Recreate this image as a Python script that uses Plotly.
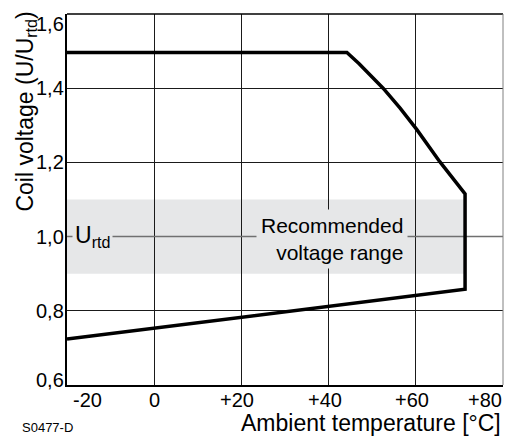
import plotly.graph_objects as go

# ---- data ----
temp_curve = [-20, 44.2, 47, 49.5, 52.5, 56.4, 60.2, 65.5, 71.3, 71.3, -20]
volt_curve = [1.496, 1.496, 1.466, 1.436, 1.4, 1.346, 1.289, 1.202, 1.115, 0.858, 0.724]

band_temp = [-20, 71.3]
band_volt = [0.9, 1.1]
rated_volt = 1.0

x_ticks = [-20, 0, 20, 40, 60, 80]
x_tick_labels = ["-20", "0", "+20", "+40", "+60", "+80"]
y_ticks = [0.6, 0.8, 1.0, 1.2, 1.4, 1.6]
y_tick_labels = ["0,6", "0,8", "1,0", "1,2", "1,4", "1,6"]

BAND = "#e6e7e8"
SANS = "Liberation Sans, Arial, Helvetica, sans-serif"
tick_font = dict(family="Liberation Sans Narrow, Liberation Sans, sans-serif", size=20, color="black")

fig = go.Figure()
fig.add_trace(go.Scatter(x=temp_curve, y=volt_curve, mode="lines",
                         line=dict(color="black", width=3.5),
                         hoverinfo="skip", showlegend=False))

fig.add_shape(type="rect", xref="x", yref="y",
              x0=band_temp[0], x1=band_temp[1], y0=band_volt[0], y1=band_volt[1],
              fillcolor=BAND, line=dict(width=0), layer="below")
fig.add_shape(type="line", xref="x", yref="y",
              x0=x_ticks[0], x1=x_ticks[-1], y0=rated_volt, y1=rated_volt,
              line=dict(color="#707070", width=1.5), layer="between")
fig.add_shape(type="line", xref="paper", yref="paper", x0=0, x1=1, y0=1, y1=1,
              line=dict(color="black", width=1.5), layer="above")
fig.add_shape(type="line", xref="paper", yref="paper", x0=1, x1=1, y0=0, y1=1,
              line=dict(color="#808080", width=1), layer="above")

annotations = []
for v, t in zip(y_ticks, y_tick_labels):
    shift = 0
    if v == y_ticks[-1]:
        shift = -10
    elif v == y_ticks[0]:
        shift = 5
    annotations.append(dict(x=0, xref="paper", y=v, yref="y", text=t,
                            xanchor="right", yanchor="middle", xshift=-1, yshift=shift,
                            showarrow=False, font=tick_font))
for v, t in zip(x_ticks, x_tick_labels):
    anchor = "center"
    xs = 0
    if v == x_ticks[0]:
        anchor = "left"
        xs = 4
    elif v == x_ticks[-1]:
        anchor = "right"
        xs = 1
    elif t.startswith("+"):
        xs = -4
    annotations.append(dict(x=v, xref="x", y=0, yref="paper", text=t,
                            xanchor=anchor, yanchor="top", xshift=xs, yshift=-2,
                            showarrow=False, font=tick_font))

annotations.append(dict(x=-0.095, xref="paper", y=1 + 4 / 371, yref="paper",
                        text="Coil voltage (U/U<sub>rtd</sub>)", textangle=-90,
                        xanchor="center", yanchor="top", showarrow=False,
                        font=dict(family=SANS, size=23, color="black")))
annotations.append(dict(x=1, xref="paper", y=-53 / 371, yref="paper",
                        text="Ambient temperature [°C]",
                        xanchor="right", yanchor="bottom", showarrow=False,
                        font=dict(family=SANS, size=23, color="black")))
annotations.append(dict(x=-47 / 436, xref="paper", y=-42 / 371, yref="paper",
                        text="S0477-D", xanchor="left", yanchor="middle", showarrow=False,
                        font=dict(family=SANS, size=13, color="black")))

annotations.append(dict(x=-18.8, xref="x", y=rated_volt, yref="y",
                        text="U<sub>rtd</sub>", xanchor="left", yanchor="middle",
                        showarrow=False, bgcolor=BAND, borderpad=2,
                        font=dict(family=SANS, size=23, color="black")))
annotations.append(dict(x=58.2, xref="x", y=rated_volt, yref="y",
                        text="Recommended<br>voltage range", align="right",
                        xanchor="right", yanchor="middle", yshift=-2,
                        showarrow=False, bgcolor=BAND, borderpad=4,
                        font=dict(family=SANS, size=21, color="black")))

fig.update_layout(
    width=517, height=438,
    margin=dict(l=67, r=14, t=14, b=53),
    paper_bgcolor="white", plot_bgcolor="white",
    annotations=annotations,
    xaxis=dict(range=[x_ticks[0], x_ticks[-1]], tickvals=x_ticks[1:-1],
               showticklabels=False, ticks="", showgrid=True,
               gridcolor="#1a1a1a", gridwidth=1, zeroline=False,
               showline=True, linecolor="black", linewidth=1.5),
    yaxis=dict(range=[y_ticks[0], y_ticks[-1]], tickvals=[0.8, 1.2, 1.4],
               showticklabels=False, ticks="", showgrid=True,
               gridcolor="#1a1a1a", gridwidth=1, zeroline=False,
               showline=True, linecolor="black", linewidth=1.5),
)

fig.write_html("out.html", config={"displayModeBar": False},
               post_script="document.body.style.margin='0';")
